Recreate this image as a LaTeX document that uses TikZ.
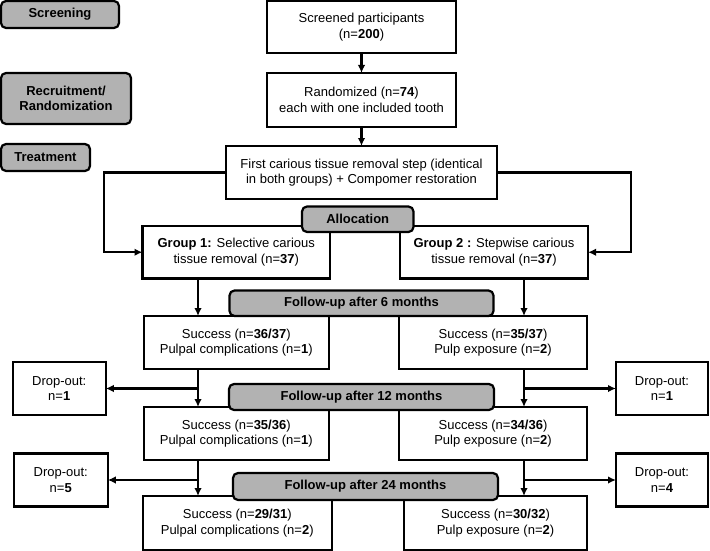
\documentclass[tikz,border=0pt]{standalone}
\usepackage{fontspec}
\setmainfont{Liberation Sans}
\usetikzlibrary{positioning}
\usetikzlibrary{arrows.meta}
\definecolor{stageGray}{RGB}{178,178,178}
\newcommand{\boxfont}{\fontsize{13pt}{15.7pt}\selectfont}
\tikzset{%
	% Specifications for style of nodes:
	base/.style = {rectangle, draw=black, line width=2.2pt, outer sep=0pt,
		inner sep=0pt, text centered, font=\boxfont},
	flowbox/.style = {base, fill=white},
	stage/.style = {base, rounded corners=5pt, fill=stageGray,
		font=\boxfont\bfseries},
	dropout/.style = {base, fill=white, minimum width=93pt, minimum height=53pt},
	link/.style = {->, line width=2.2pt}
}

\begin{document}
\begin{tikzpicture}[x=1pt, y=1pt, align=center, >={Latex[length=8pt, width=7.5pt]}]
		\useasboundingbox (0,0) rectangle (710,-551);
		% main column
		\node (screened) [flowbox, minimum width=189pt, minimum height=52pt] at (361.5,-27) {Screened participants\\(n=\textbf{200})};
		\node (randomized) [flowbox, minimum width=189pt, minimum height=54pt, below=20pt of screened] {Randomized (n=\textbf{74})\\each with one included tooth};
		\node (firstStep) [flowbox, minimum width=271pt, minimum height=53pt, below=19pt of randomized] {First carious tissue removal step (identical\\in both groups) + Compomer restoration};
		\node (group1) [flowbox, minimum width=187.5pt, minimum height=52.5pt, below=27pt of firstStep, xshift=-125.25pt] {\textbf{Group 1:} Selective carious\\tissue removal (n=\textbf{37})};
		\node (group2) [flowbox, minimum width=188pt, minimum height=52.5pt, below=27pt of firstStep, xshift=132.5pt] {\textbf{Group 2 :} Stepwise carious\\tissue removal (n=\textbf{37})};
		\node (success6L) [flowbox, minimum width=185pt, minimum height=53pt, below=37.5pt of group1] {Success (n=\textbf{36/37})\\Pulpal complications (n=\textbf{1})};
		\node (success6R) [flowbox, minimum width=188pt, minimum height=53pt, below=37.5pt of group2, xshift=-1pt] {Success (n=\textbf{35/37})\\Pulp exposure (n=\textbf{2})};
		\node (success12L) [flowbox, minimum width=185pt, minimum height=53pt, below=38pt of success6L] {Success (n=\textbf{35/36})\\Pulpal complications (n=\textbf{1})};
		\node (success12R) [flowbox, minimum width=188pt, minimum height=53pt, below=38pt of success6R] {Success (n=\textbf{34/36})\\Pulp exposure (n=\textbf{2})};
		\node (success24L) [flowbox, minimum width=189pt, minimum height=54pt, below=36pt of success12L, xshift=1pt] {Success (n=\textbf{29/31})\\Pulpal complications (n=\textbf{2})};
		\node (success24R) [flowbox, minimum width=183pt, minimum height=54pt, below=36pt of success12R, xshift=2.5pt] {Success (n=\textbf{30/32})\\Pulp exposure (n=\textbf{2})};
		% drop-outs
		\node (dropL1) [dropout, left=38pt of success6L, yshift=-46pt] {Drop-out:\\n=\textbf{1}};
		\node (dropR1) [dropout, minimum width=92pt, right=29pt of success6R, yshift=-46pt] {Drop-out:\\n=\textbf{1}};
		\node (dropL5) [dropout, minimum width=94pt, left=36pt of success12L, yshift=-46.5pt] {Drop-out:\\n=\textbf{5}};
		\node (dropR4) [dropout, minimum width=92pt, right=29pt of success12R, yshift=-46.5pt] {Drop-out:\\n=\textbf{4}};
		% connectors
		\coordinate (leftLane) at (198,0);
		\coordinate (rightLane) at (524,0);
		\draw[link] (screened) -- (randomized);
		\draw[link] (randomized) -- (firstStep);
		\draw[link] (firstStep.west) -- ++(-122,0) |- (group1);
		\draw[link] (firstStep.east) -- ++(134,0) |- (group2);
		\draw[link] (group1.south -| leftLane) -- (success6L.north -| leftLane);
		\draw[link] (group2.south -| rightLane) -- (success6R.north -| rightLane);
		\draw[link] (success6L.south -| leftLane) -- (success12L.north -| leftLane);
		\draw[link] (success6R.south -| rightLane) -- (success12R.north -| rightLane);
		\draw[link] (success12L.south -| leftLane) -- (success24L.north -| leftLane);
		\draw[link] (success12R.south -| rightLane) -- (success24R.north -| rightLane);
		\draw[link] (dropL1.east -| leftLane) -- (dropL1.east);
		\draw[link] (dropR1.west -| rightLane) -- (dropR1.west);
		\draw[link] (dropL5.east -| leftLane) -- (dropL5.east);
		\draw[link] (dropR4.west -| rightLane) -- (dropR4.west);
		% stage labels
		\node (screening) [stage, minimum width=118pt, minimum height=27pt, below left=0pt and 148pt of screened.north west] {Screening};
		\node (recruitment) [stage, minimum width=130pt, minimum height=51pt, below left=0pt and 136pt of randomized.north west] {Recruitment/\\Randomization};
		\node (treatment) [stage, minimum width=89pt, minimum height=27pt, below left=-2pt and 136pt of firstStep.north west] {Treatment};
		\node (allocation) [stage, minimum width=111.5pt, minimum height=25.5pt, below=7.5pt of firstStep, xshift=-3.75pt] {Allocation};
		\node (followUp6) [stage, minimum width=264pt, minimum height=25.5pt, below=91.5pt of firstStep] {Follow-up after 6 months};
		\node (followUp12) [stage, minimum width=265pt, minimum height=26pt, below=68pt of followUp6] {Follow-up after 12 months};
		\node (followUp24) [stage, minimum width=265pt, minimum height=27pt, below=63pt of followUp12, xshift=4pt] {Follow-up after 24 months};
	\end{tikzpicture}
\end{document}
